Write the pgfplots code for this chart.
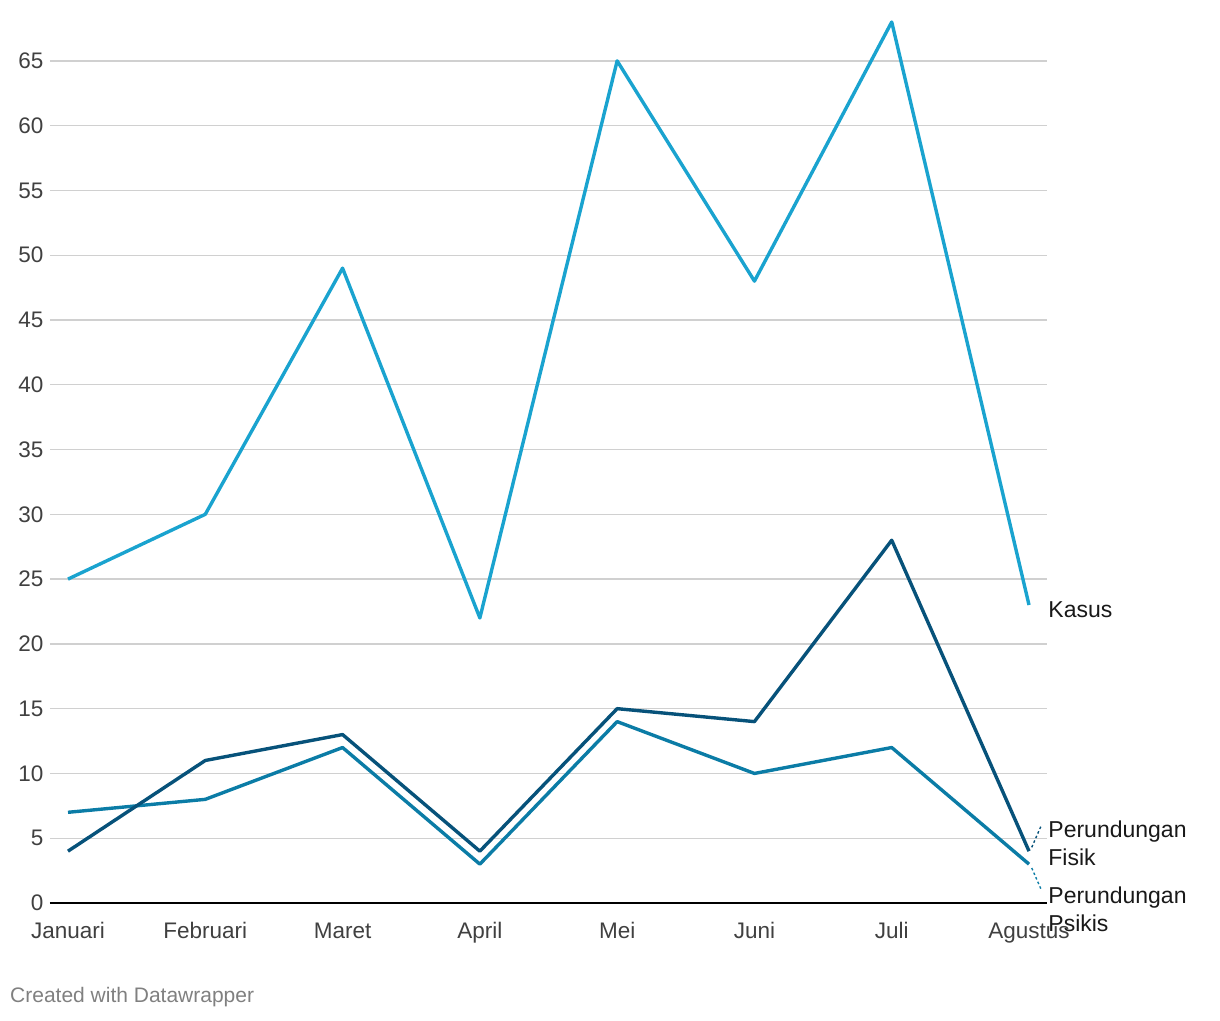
\documentclass[border=0pt]{standalone}
\usepackage{pgfplots}
\pgfplotsset{compat=1.18}
\usepackage{fontspec}
\setmainfont{Liberation Sans}
\definecolor{kasus}{HTML}{1AA3CF}
\definecolor{fisik}{HTML}{07527A}
\definecolor{psikis}{HTML}{0B7CA6}
\definecolor{gridc}{HTML}{D0D0D0}
\definecolor{tickc}{HTML}{404040}
\begin{document}
\begin{tikzpicture}
\useasboundingbox (0,0) rectangle (1220pt,1020pt);
\begin{axis}[
  at={(50pt,117pt)}, anchor=south west,
  scale only axis, width=997pt, height=881pt,
  xmin=-0.131, xmax=7.131, ymin=0, ymax=68,
  axis line style={draw=none},
  major tick length=0pt,
  xtick={0,...,7},
  xticklabels={Januari,Februari,Maret,April,Mei,Juni,Juli,Agustus},
  ytick={0,5,...,65},
  ymajorgrids, grid style={gridc, line width=1.4pt},
  /pgf/number format/assume math mode=true,
  tick label style={font=\fontsize{22.5}{26}\selectfont, text=tickc},
  xticklabel style={anchor=base, yshift=-35pt},
  yticklabel style={anchor=east, xshift=-3pt},
  clip=false,
]
\addplot[kasus, line width=3.4pt, line join=round] coordinates {(0,25)(1,30)(2,49)(3,22)(4,65)(5,48)(6,68)(7,23)};
\addplot[psikis, line width=3.4pt, line join=round] coordinates {(0,7)(1,8)(2,12)(3,3)(4,14)(5,10)(6,12)(7,3)};
\addplot[fisik, line width=3.4pt, line join=round] coordinates {(0,4)(1,11)(2,13)(3,4)(4,15)(5,14)(6,28)(7,4)};
\draw[black, line width=1.6pt] (axis cs:-0.131,0) -- (axis cs:7.131,0);
\draw[fisik, line width=1.4pt, dash pattern=on 2.5pt off 2.5pt] (axis cs:7.02,4.3) -- (axis cs:7.09,6);
\draw[psikis, line width=1.4pt, dash pattern=on 2.5pt off 2.5pt] (axis cs:7.02,2.7) -- (axis cs:7.09,1);
\node[anchor=west, font=\fontsize{23}{26}\selectfont, text=black!90, inner sep=0pt] at (axis cs:7.14,22.6) {Kasus};
\node[anchor=west, font=\fontsize{23}{28}\selectfont, text=black!90, inner sep=0pt, align=left] at (axis cs:7.14,4.6) {Perundungan\\Fisik};
\node[anchor=west, font=\fontsize{23}{28}\selectfont, text=black!90, inner sep=0pt, align=left] at (axis cs:7.14,-0.5) {Perundungan\\Psikis};
\end{axis}
\node[anchor=west, font=\fontsize{21}{24}\selectfont, text=black!50, inner sep=0pt] at (10pt,23pt) {Created with Datawrapper};
\end{tikzpicture}
\end{document}
